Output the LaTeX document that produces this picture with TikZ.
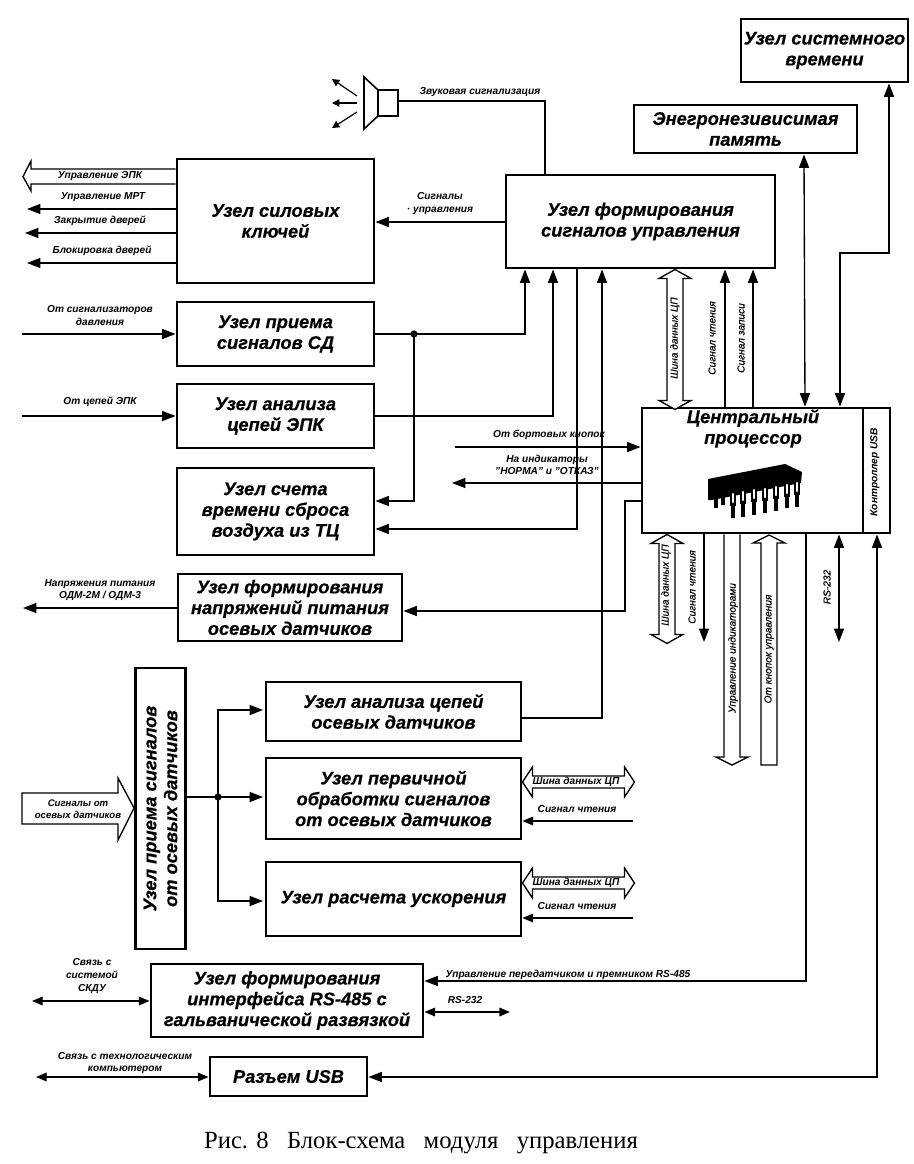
\documentclass[tikz,border=0pt]{standalone}
\usepackage{fontspec}
\setmainfont{Liberation Sans}
\newfontfamily\capfont{Liberation Serif}
\newfontfamily\heavyfont[BoldItalicFeatures={FakeBold=0.5}]{Liberation Sans}
\newfontfamily\medfont[ItalicFeatures={FakeBold=0.35}]{Liberation Sans}
\usetikzlibrary{arrows.meta}
\tikzset{
  box/.style={draw,line width=2.2pt,inner sep=0pt,align=center,font=\heavyfont\fontsize{13.7}{15.6}\selectfont\bfseries\itshape},
  lab/.style={inner sep=0pt,align=center,font=\fontsize{7.6}{9.5}\selectfont\bfseries\itshape},
  labr/.style={inner sep=0pt,align=center,rotate=90,font=\medfont\fontsize{7.6}{9.5}\selectfont\itshape},
  ar/.style={line width=1pt,-{Triangle[length=10pt,width=7.5pt]}},
  arb/.style={line width=1pt,{Triangle[length=10pt,width=7.5pt]}-{Triangle[length=10pt,width=7.5pt]}},
  ars/.style={line width=1pt,-{Triangle[length=8pt,width=6.5pt]}},
  arbs/.style={line width=1pt,{Triangle[length=8pt,width=6.5pt]}-{Triangle[length=8pt,width=6.5pt]}},
  ray/.style={line width=.9pt,-{Triangle[length=5.5pt,width=5.5pt]}},
  ln/.style={line width=1pt},
  hollow/.style={draw,fill=white,line width=1pt,line join=miter},
  dotn/.style={circle,fill=black,inner sep=0pt,minimum size=5.5pt},
}
\newcommand{\bx}[6]{\node[box,minimum width={(#4-#2)*0.75pt},minimum height={(#5-#3)*0.75pt}] (#1) at ({(#2+#4)/2},{(#3+#5)/2}) {#6};}
% vertical double bus: top tip, length in px
\newcommand{\vbus}[2]{\draw[hollow] #1 -- ++(16,9) -- ++(-8,0) -- ++(0,{#2-18}) -- ++(8,0) -- ++(-16,9) -- ++(-16,-9) -- ++(8,0) -- ++(0,{-(#2-18)}) -- ++(-8,0) -- cycle;}
% horizontal double bus: left tip, length in px
\newcommand{\hbus}[2]{\draw[hollow] #1 -- ++(10,-15) -- ++(0,9) -- ++({#2-20},0) -- ++(0,-9) -- ++(10,15) -- ++(-10,15) -- ++(0,-9) -- ++({-(#2-20)},0) -- ++(0,9) -- cycle;}
\begin{document}
\begin{tikzpicture}[x=0.75pt,y=-0.75pt]
\useasboundingbox (0,0) rectangle (914,1164);
\fill[white] (0,0) rectangle (914,1164);

% boxes
\bx{tim}{741}{19}{908}{82}{Узел системного\\времени}
\bx{mem}{634}{105}{857}{153}{Энегронезивисимая\\память}
\bx{sk}{177}{159}{374}{283}{Узел силовых\\ключей}
\bx{form}{506}{175}{775}{268}{Узел формирования\\сигналов управления}
\bx{sd}{177}{302}{374}{366}{Узел приема\\сигналов СД}
\bx{epk}{177}{384}{374}{448}{Узел анализа\\цепей ЭПК}
\bx{sch}{177}{468}{374}{555}{Узел счета\\времени сброса\\воздуха из ТЦ}
\bx{nap}{178}{574}{402}{641}{Узел формирования\\напряжений питания\\осевых датчиков}
\bx{cpu}{642}{408}{863}{533}{}
\bx{usbc}{863}{408}{890}{533}{}
\node[box,rotate=90,minimum width={281*0.75pt},minimum height={50*0.75pt}] (rec) at (160.5,808.5) {Узел приема сигналов\\от осевых датчиков};
\bx{ana}{266}{682}{521}{741}{Узел анализа цепей\\осевых датчиков}
\bx{per}{266}{758}{521}{839}{Узел первичной\\обработки сигналов\\от осевых датчиков}
\bx{ras}{266}{862}{521}{936}{Узел расчета ускорения}
\bx{rs}{151}{964}{423}{1037}{Узел формирования\\интерфейса RS-485 с\\гальванической развязкой}
\bx{usb}{210}{1057}{367}{1096}{Разъем USB}

\node[inner sep=0pt,align=center,font=\heavyfont\fontsize{13.7}{15.6}\selectfont\bfseries\itshape] (cput) at (753,428.5) {Центральный\\процессор};
\node[labr,font=\fontsize{7.6}{9.5}\selectfont\bfseries\itshape] (usbl) at (875,472) {Контроллер USB};

% speaker
\draw[line width=1.2pt,line join=miter] (378,90) rectangle (398,116);
\draw[line width=1.2pt,line join=miter] (378,90) -- (364,77) -- (364,129) -- (378,116);
\coordinate (spk) at (398,101);
\coordinate (r1a) at (357,96); \coordinate (r1b) at (332,79);
\coordinate (r2a) at (357,103); \coordinate (r2b) at (332,103);
\coordinate (r3a) at (357,112); \coordinate (r3b) at (332,128);
\draw[ray] (r1a) -- (r1b);
\draw[ray] (r2a) -- (r2b);
\draw[ray] (r3a) -- (r3b);
\draw[ln] (spk) -| (form.north -| 545,0);

% left outputs of силовые ключи
\draw[hollow] (sk.west |- 0,169) -- (31,169) -- (31,161) -- (23,176.5) -- (31,191) -- (31,184) -- (sk.west |- 0,184);
\coordinate (o1) at (27,209); \coordinate (o2) at (25,233); \coordinate (o3) at (27,263); \coordinate (o4) at (23,608);
\draw[ar] (sk.west |- o1) -- (o1);
\draw[ar] (sk.west |- o2) -- (o2);
\draw[ar] (sk.west |- o3) -- (o3);
\draw[ar] (nap.west |- o4) -- (o4);
\draw[ar] (form.west |- 0,222) -- (sk.east |- 0,222);

% inputs
\coordinate (i1) at (22,334); \coordinate (i2) at (22,416);
\draw[ar] (i1) -- (sd.west |- i1);
\draw[ar] (i2) -- (epk.west |- i2);

% СД outputs
\node[dotn] (d1) at (414,334) {};
\draw[ar] (sd.east |- d1) -- (d1.center) -| (form.south -| 525,0);
\draw[ar] (d1.center) |- (sch.east |- 0,501);
\draw[ar] (epk.east |- 0,416) -| (form.south -| 553,0);
\draw[ar] (form.south -| 577,0) |- (sch.east |- 0,529);
\draw[ar] (ana.east |- 0,718) -| (form.south -| 602,0);
\draw[ar] (cpu.west |- 0,501) -| (625,611) -- (nap.east |- 0,611);

% CPU top
\vbus{(form.south -| 675,0)}{140}
\draw[ar] (cpu.north -| 725,0) -- (form.south -| 725,0);
\draw[ar] (cpu.north -| 753,0) -- (form.south -| 753,0);
\draw[arb] (mem.south -| 804,0) -- (cpu.north -| 805,0);
\draw[arb] (tim.south -| 889,0) |- (840,253) -- (cpu.north -| 840,0);
\coordinate (b1) at (455,447); \coordinate (b2) at (452,483);
\draw[ar] (b1) -- (cpu.west |- b1);
\draw[ar] (cpu.west |- b2) -- (b2);

% CPU bottom
\vbus{(cpu.south -| 667,0)}{109}
\coordinate (rd) at (704,642);
\draw[ar] (cpu.south -| rd) -- (rd);
\draw[hollow] (cpu.south -| 724,0) -- (724,757) -- (716,757) -- (732,765) -- (748,757) -- (740,757) -- (cpu.south -| 740,0);
\draw[hollow] (761,765) -- (761,543) -- (753,543) -- (769,535) -- (785,543) -- (777,543) -- (777,765) -- cycle;
\draw[ar] (cpu.south -| 806,0) |- (rs.east |- 0,981);
\coordinate (r232) at (839,642);
\draw[arb] (cpu.south -| r232) -- (r232);
\draw[arb] (usbc.south -| 877,0) |- (usb.east |- 0,1077);

% osevye
\draw[hollow] (22,793) -- (118,793) -- (118,778) -- (rec.north |- 0,808) -- (118,840) -- (118,824) -- (22,824) -- cycle;
\node[dotn] (d2) at (218,797) {};
\coordinate (t1) at (263,710); \coordinate (t3) at (263,901); \coordinate (t2) at (263,797);
\draw[ln] (rec.south |- d2) -- (d2.center);
\draw[ar] (d2.center) -- (t2);
\draw[ar] (d2.center) |- (t1);
\draw[ar] (d2.center) |- (t3);

\hbus{(per.east |- 0,782)}{112}
\hbus{(ras.east |- 0,883)}{112}
\coordinate (e1) at (633,821); \coordinate (e2) at (633,918);
\draw[ars] (e1) -- (per.east |- e1);
\draw[ars] (e2) -- (ras.east |- e2);

% bottom
\coordinate (s1) at (32,1001); \coordinate (s2) at (36,1077); \coordinate (s3) at (510,1012);
\draw[arbs] (s1) -- (rs.west |- s1);
\draw[arbs] (rs.east |- s3) -- (s3);
\draw[arbs] (s2) -- (usb.west |- s2);

% chip
\fill[black] (708,479) -- (785,464) -- (802,472) -- (801,483) -- (712,500) -- (708,500) -- cycle;
\foreach \x/\y in {716/508, 723/505}{\draw[line width=3.2pt] (\x,495) -- (\x,\y);}
\foreach \x/\y/\t in {733/518/493, 743/517/491, 754/515/489, 765/513/488, 776/511/486, 787/508/484, 797/507/482}{
  \draw[line width=4.2pt] (\x,\t) -- (\x,{\t+13});
  \draw[line width=3pt] (\x,{\t+12}) -- (\x,\y);
  \draw[white,line width=1.8pt,line cap=round] (\x,{\t+1}) -- (\x,{\t+9});
}

% labels
\node[lab] (l1) at (480,92) {Звуковая сигнализация};
\node[lab] (l2) at (100,176) {Управление ЭПК};
\node[lab] (l3) at (103,197) {Управление МРТ};
\node[lab] (l4) at (100,221) {Закрытие дверей};
\node[lab] (l5) at (102,251) {Блокировка дверей};
\node[lab] (l6) at (440,203.5) {Сигналы\\\textperiodcentered\ управления};
\node[lab] (l7) at (100,315.5) {От сигнализаторов\\давления};
\node[lab] (l8) at (100,402) {От цепей ЭПК};
\node[lab] (l9) at (549,435) {От бортовых кнопок};
\node[lab] (l10) at (547,465) {На индикаторы\\"НОРМА" и "ОТКАЗ"};
\node[lab] (l11) at (100,590) {Напряжения питания\\ОДМ-2М / ОДМ-3};
\node[labr] (l12) at (675,338) {Шина данных ЦП};
\node[labr] (l13) at (712,338) {Сигнал чтения};
\node[labr] (l14) at (741,338) {Сигнал записи};
\node[labr] (l15) at (666,585) {Шина данных ЦП};
\node[labr] (l16) at (692,587) {Сигнал чтения};
\node[labr] (l17) at (733,648) {Управление индикаторами};
\node[labr] (l18) at (769,649) {От кнопок управления};
\node[labr] (l19) at (827,587) {RS-232};
\node[lab,font=\fontsize{7.2}{9}\selectfont\bfseries\itshape] (l20) at (78,809) {Сигналы от\\осевых датчиков};
\node[lab] (l21) at (576,782) {Шина данных ЦП};
\node[lab] (l22) at (577,809) {Сигнал чтения};
\node[lab] (l23) at (576,883) {Шина данных ЦП};
\node[lab] (l24) at (577,906) {Сигнал чтения};
\node[lab] (l25) at (92,976) {Связь с\\системой\\СКДУ};
\node[lab] (l26) at (568,975) {Управление передатчиком и премником RS-485};
\node[lab] (l27) at (465,1000) {RS-232};
\node[lab] (l28) at (125,1063) {Связь с технологическим\\компьютером};
\node[inner sep=0pt,font=\capfont\fontsize{18.5}{20}\selectfont] (cap) at (421,1143) {Рис. 8\ \hspace{4.5pt}\ Блок-схема\ \hspace{4.5pt}\ модуля\ \hspace{4.5pt}\ управления};
\end{tikzpicture}
\end{document}
